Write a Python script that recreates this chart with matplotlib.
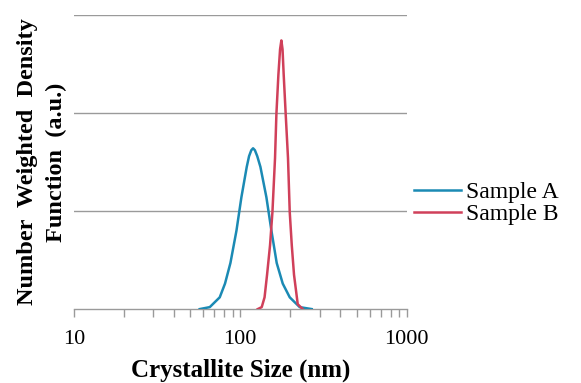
import matplotlib

matplotlib.use("Agg")
import matplotlib.pyplot as plt
from matplotlib.ticker import LogLocator, NullFormatter, FixedLocator

# Sample A
SIZE_A = [57.1, 65.6, 75.3, 81.0, 87.3, 94.9, 101.6, 109.4, 113.0, 116.5, 119.4,
          122.5, 126.5, 132.2, 143.6, 153.9, 165.6, 180.0, 198.3, 227.6, 268.6]
DENS_A = [0.00, 0.02, 0.12, 0.26, 0.47, 0.80, 1.14, 1.45, 1.56, 1.62, 1.64,
          1.62, 1.56, 1.45, 1.14, 0.80, 0.47, 0.26, 0.12, 0.02, 0.00]

# Sample B
SIZE_B = [127.4, 134.6, 140.0, 144.9, 151.0, 156.1, 161.8, 164.9, 169.5, 173.5,
          176.6, 179.5, 182.4, 187.5, 193.6, 198.3, 204.0, 210.4, 221.5, 237.3]
DENS_B = [0.00, 0.02, 0.12, 0.35, 0.65, 0.99, 1.54, 1.99, 2.39, 2.65,
          2.74, 2.65, 2.39, 1.99, 1.54, 0.99, 0.65, 0.35, 0.05, 0.00]

LABELS = ["Sample A", "Sample B"]
COLORS = ["#1b8ab4", "#d0405a"]

SERIF = "Liberation Serif"

fig = plt.figure(figsize=(5.81, 3.83), dpi=100)
ax = fig.add_axes([0.127, 0.193, 0.573, 0.768])

ax.plot(SIZE_A, DENS_A, color=COLORS[0], lw=1.8, label=LABELS[0], zorder=3)
ax.plot(SIZE_B, DENS_B, color=COLORS[1], lw=1.8, label=LABELS[1], zorder=3)

ax.set_xscale("log")
ax.set_xlim(10, 1000)
ax.set_ylim(0, 3)

for s in ["top", "right", "left"]:
    ax.spines[s].set_visible(False)
ax.spines["bottom"].set_color("#9a9a9a")
ax.spines["bottom"].set_linewidth(1.0)

ax.yaxis.set_major_locator(FixedLocator([1, 2, 3]))
ax.tick_params(axis="y", left=False, labelleft=False)
ax.grid(axis="y", color="#9a9a9a", lw=1.0, zorder=0)

ax.xaxis.set_major_locator(LogLocator(base=10))
ax.xaxis.set_minor_locator(LogLocator(base=10, subs=range(2, 10)))
ax.xaxis.set_minor_formatter(NullFormatter())
ax.set_xticks([10, 100, 1000])
ax.set_xticklabels(["10", "100", "1000"], fontfamily=SERIF, fontsize=16)
ax.tick_params(axis="x", which="both", direction="out", length=6,
               color="#9a9a9a", width=1.0, pad=9)

ax.set_xlabel("Crystallite Size (nm)", fontfamily=SERIF, fontsize=18,
              fontweight="bold", labelpad=7)
ax.set_ylabel("Number  Weighted  Density\nFunction  (a.u.)", fontfamily=SERIF,
              fontsize=17.5, fontweight="bold", labelpad=5, linespacing=1.45)

fig.legend(*ax.get_legend_handles_labels(), loc="center left",
           bbox_to_anchor=(0.712, 0.469), frameon=False,
           prop={"family": SERIF, "size": 17}, handlelength=2.0,
           handletextpad=0.2, labelspacing=0.0, borderpad=0,
           borderaxespad=0)

fig.savefig("out.png", dpi=100)
